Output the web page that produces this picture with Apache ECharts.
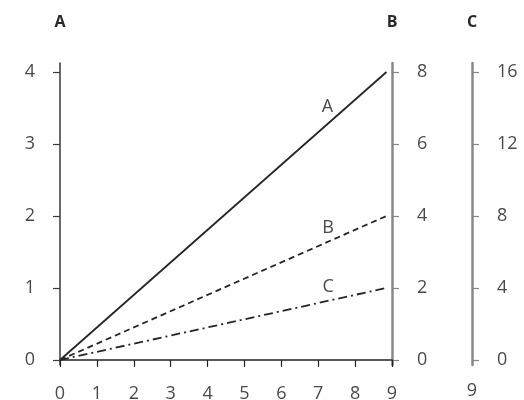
<!DOCTYPE html>
<html>
<head>
<meta charset="utf-8">
<script src="https://cdn.jsdelivr.net/npm/echarts@6/dist/echarts.min.js"></script>
<style>html,body{margin:0;padding:0;background:#fff}#c{width:524px;height:400px}</style>
</head>
<body>
<div id="c"></div>
<script>
var xTicks = [0,1,2,3,4,5,6,7,8,9];
var yTicksA = [0,1,2,3,4];
var yTicksB = [0,2,4,6,8];
var yTicksC = [0,4,8,12,16];
var lineX = [0, 8.85];
var valuesA = [0, 4];
var valuesB = [0, 4];
var valuesC = [0, 4];
var seriesNames = ['A','B','C'];
var labelX = [7.25, 7.27, 7.27];
var labelY = [3.52, 3.66, 4.05];
var extraLabel = '9';

var FONT = 'Open Sans';
var labelColor = '#4a4a4a';
var chart = echarts.init(document.getElementById('c'), null, {renderer:'canvas'});

function yAxis(name, ticks, min, max, pos, offset, lineColor, lineWidth) {
  return {
    type: 'value', name: name, position: pos, offset: offset, min: min, max: max,
    nameLocation: 'end', nameGap: 33,
    nameTextStyle: {fontFamily: FONT, fontWeight: 'bold', fontSize: 16, color: '#2a2a2a', align: 'center'},
    axisLine: {show: true, onZero: false, lineStyle: {color: lineColor, width: lineWidth}},
    axisTick: {show: true, customValues: ticks, length: 7, lineStyle: {color: lineColor, width: 1.2}},
    axisLabel: {customValues: ticks, fontFamily: FONT, fontSize: 18, color: labelColor, margin: 25},
    splitLine: {show: false}
  };
}

function seriesFor(i, vals, axisIdx, dash) {
  return {
    type: 'line', name: seriesNames[i], yAxisIndex: axisIdx,
    data: lineX.map(function(x, k){ return [x, vals[k]]; }),
    symbol: 'none', animation: false,
    lineStyle: {color: '#262626', width: 1.8, type: dash},
    markPoint: {
      symbol: 'circle', symbolSize: 0, animation: false,
      data: [{coord: [labelX[i], labelY[i]], value: seriesNames[i]}],
      label: {show: true, formatter: seriesNames[i], fontFamily: FONT, fontSize: 18, color: labelColor, position: 'inside'}
    }
  };
}

chart.setOption({
  animation: false,
  grid: {left: 60, right: 132, top: 63, bottom: 35, containLabel: false, outerBoundsMode: 'none'},
  xAxis: {
    type: 'value', min: 0, max: 9, interval: 1,
    axisLine: {onZero: true, lineStyle: {color: '#222', width: 1.5}},
    axisTick: {show: true, customValues: xTicks, length: 7, lineStyle: {color: '#222', width: 1.2}},
    axisLabel: {customValues: xTicks, fontFamily: FONT, fontSize: 18, color: labelColor, margin: 20},
    splitLine: {show: false}
  },
  yAxis: [
    yAxis('A', yTicksA, -0.07, 4.125, 'left', 0, '#3a3a3a', 1.5),
    yAxis('B', yTicksB, -0.14, 8.25, 'right', 0, '#888', 2.5),
    yAxis('C', yTicksC, -0.28, 16.5, 'right', 80, '#888', 2.5)
  ],
  series: [
    seriesFor(0, valuesA, 0, 'solid'),
    seriesFor(1, valuesB, 1, [6, 4]),
    seriesFor(2, valuesC, 2, [9, 4, 2, 4])
  ],
  graphic: [{
    type: 'text', x: 472, y: 391,
    style: {text: extraLabel, font: '18px "Open Sans"', fill: labelColor, align: 'center', verticalAlign: 'middle'}
  }]
});
</script>
</body>
</html>
